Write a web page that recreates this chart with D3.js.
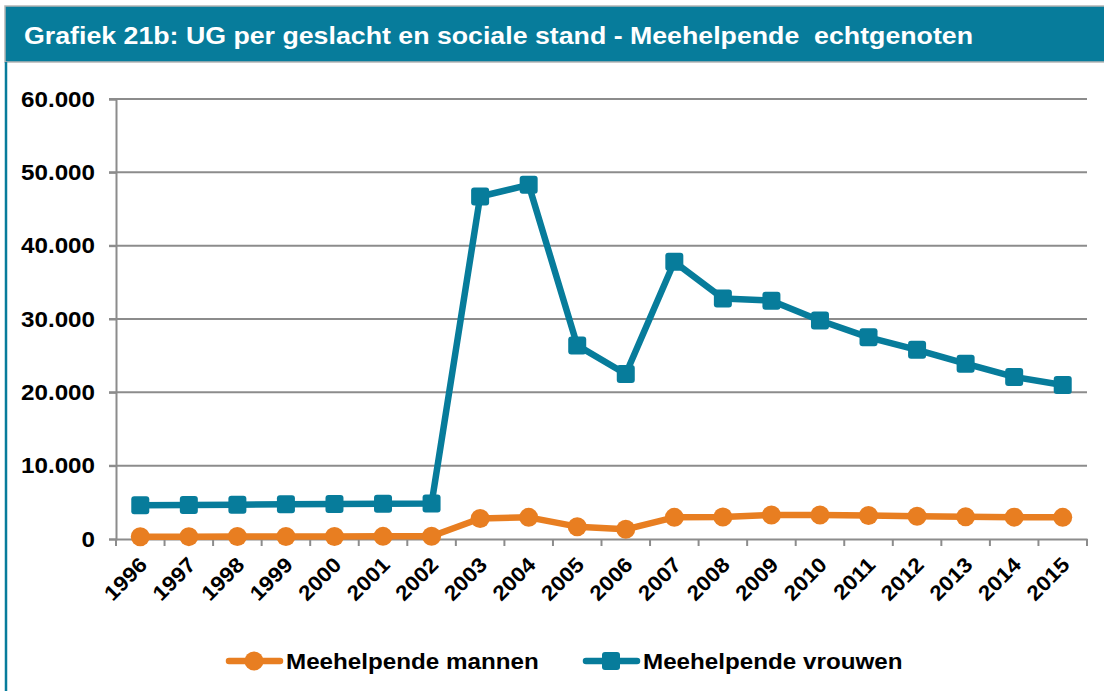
<!DOCTYPE html>
<html>
<head>
<meta charset="utf-8">
<script src="https://cdn.jsdelivr.net/npm/d3@7"></script>
<style>
  body { margin: 0; background: #fff; }
  svg { display: block; font-family: Arial, "Liberation Sans", sans-serif; }
</style>
</head>
<body>
<svg id="chart" width="1104" height="691"></svg>
<script>
var years = ["1996", "1997", "1998", "1999", "2000", "2001", "2002", "2003", "2004", "2005",
             "2006", "2007", "2008", "2009", "2010", "2011", "2012", "2013", "2014", "2015"];
var mannen = [300, 320, 330, 340, 350, 360, 380, 2800, 2950, 1680, 1320, 2950, 3000, 3270,
              3270, 3200, 3100, 3020, 2980, 2950];
var vrouwen = [4600, 4650, 4680, 4750, 4780, 4800, 4850, 46700, 48300, 26400, 22500, 37800,
               32800, 32500, 29800, 27500, 25800, 23900, 22100, 21000];
var yTicks = [0, 10000, 20000, 30000, 40000, 50000, 60000];

var teal = "#077c9b";
var orange = "#e87e21";
var fontStack = "Arial, 'Liberation Sans', sans-serif";

var svg = d3.select("#chart");

// tekst in het origineel is iets breder uitgerekt
function stretch(sel, factor) {
  sel.each(function() {
    var w = this.getComputedTextLength();
    d3.select(this).attr("textLength", w * factor).attr("lengthAdjust", "spacingAndGlyphs");
  });
}

// kader en titelbalk
svg.append("rect")
  .attr("x", 5).attr("y", 6).attr("width", 1104).attr("height", 56)
  .attr("fill", teal).attr("stroke", "#b5b5b5").attr("stroke-width", 1.5);
svg.append("line")
  .attr("x1", 6).attr("x2", 6).attr("y1", 62).attr("y2", 691)
  .attr("stroke", teal).attr("stroke-width", 2.5);
svg.append("text")
  .attr("x", 24).attr("y", 44)
  .attr("fill", "#fff")
  .attr("font-weight", "bold")
  .style("font-size", "24px")
  .text("Grafiek 21b: UG per geslacht en sociale stand - Meehelpende \u00a0echtgenoten")
  .attr("textLength", 949).attr("lengthAdjust", "spacingAndGlyphs");

var x = d3.scaleBand().domain(years).range([116, 1087]);
var y = d3.scaleLinear().domain([0, 60000]).range([539, 99]);

// rasterlijnen
svg.append("g")
  .selectAll("line")
  .data(yTicks.slice(1))
  .join("line")
  .attr("x1", 109).attr("x2", 1087)
  .attr("y1", function(d) { return y(d); })
  .attr("y2", function(d) { return y(d); })
  .attr("stroke", "#8c8c8c").attr("stroke-width", 2);

var fmt = function(d) { return d3.format(",")(d).replace(/,/g, "."); };

var yAxis = svg.append("g")
  .attr("transform", "translate(116,0)")
  .call(d3.axisLeft(y).tickValues(yTicks).tickFormat(fmt).tickSize(7).tickPadding(14));
yAxis.select(".domain").attr("stroke", "#8c8c8c").attr("stroke-width", 2);
yAxis.selectAll(".tick line").attr("stroke", "#8c8c8c").attr("stroke-width", 2);
yAxis.selectAll(".tick text")
  .attr("fill", "#000").attr("font-weight", "bold")
  .style("font-size", "22px").style("font-family", fontStack)
  .call(stretch, 1.1);

// x-as
var xAxis = svg.append("g")
  .attr("transform", "translate(0,539)")
  .call(d3.axisBottom(x).tickSize(0).tickSizeOuter(0));
xAxis.select(".domain").attr("stroke", "#8c8c8c").attr("stroke-width", 2);
xAxis.selectAll(".tick text")
  .attr("fill", "#000").attr("font-weight", "bold")
  .style("font-size", "21px").style("font-family", fontStack)
  .attr("text-anchor", "end")
  .attr("transform", "translate(3,22) rotate(-45)")
  .attr("dy", "0.35em").attr("y", 0)
  .call(stretch, 1.08);
svg.append("g")
  .selectAll("line")
  .data(years.concat(["end"]))
  .join("line")
  .attr("x1", function(d, i) { return x.range()[0] + i * x.step(); })
  .attr("x2", function(d, i) { return x.range()[0] + i * x.step(); })
  .attr("y1", 539).attr("y2", 546)
  .attr("stroke", "#8c8c8c").attr("stroke-width", 2);

var cx = function(d, i) { return x(years[i]) + x.bandwidth() / 2; };
var line = d3.line()
  .x(function(d, i) { return cx(d, i); })
  .y(function(d) { return y(d); });

// vrouwen
svg.append("path")
  .datum(vrouwen)
  .attr("d", line)
  .attr("fill", "none").attr("stroke", teal).attr("stroke-width", 6.5)
  .attr("stroke-linejoin", "round");
svg.append("g")
  .selectAll("rect")
  .data(vrouwen)
  .join("rect")
  .attr("x", function(d, i) { return cx(d, i) - 9; })
  .attr("y", function(d) { return y(d) - 9; })
  .attr("width", 18).attr("height", 18).attr("rx", 3)
  .attr("fill", teal);

// mannen
svg.append("path")
  .datum(mannen)
  .attr("d", line)
  .attr("fill", "none").attr("stroke", orange).attr("stroke-width", 6.5)
  .attr("stroke-linejoin", "round");
svg.append("g")
  .selectAll("circle")
  .data(mannen)
  .join("circle")
  .attr("cx", cx)
  .attr("cy", function(d) { return y(d); })
  .attr("r", 9.5)
  .attr("fill", orange);

// legenda
var legend = [
  { label: "Meehelpende mannen", color: orange, shape: "circle", x: 226 },
  { label: "Meehelpende vrouwen", color: teal, shape: "square", x: 583 }
];
legend.forEach(function(l) {
  var g = svg.append("g").attr("transform", "translate(" + l.x + ",661)");
  g.append("line").attr("x1", 3).attr("x2", 54).attr("y1", 0).attr("y2", 0)
    .attr("stroke", l.color).attr("stroke-width", 6.5).attr("stroke-linecap", "round");
  if (l.shape === "circle") {
    g.append("circle").attr("cx", 28).attr("cy", 0).attr("r", 9.5).attr("fill", l.color);
  } else {
    g.append("rect").attr("x", 19).attr("y", -9).attr("width", 18).attr("height", 18)
      .attr("rx", 3).attr("fill", l.color);
  }
  g.append("text").attr("x", 60).attr("y", 8)
    .attr("font-weight", "bold").style("font-size", "22px").attr("fill", "#000")
    .text(l.label)
    .call(stretch, 1.1);
});
</script>
</body>
</html>
